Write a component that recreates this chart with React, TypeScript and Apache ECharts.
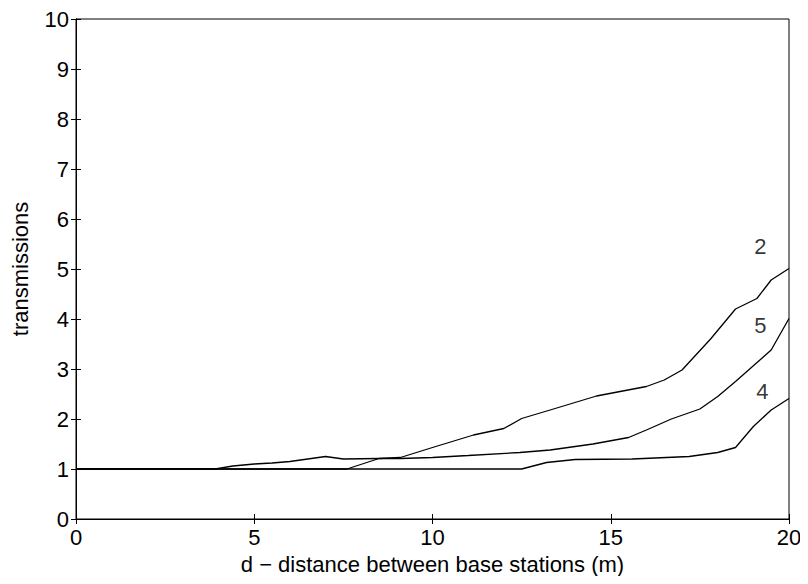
import React, { useEffect, useRef } from "react";
import * as echarts from "echarts";

const xs2 = [0, 7.6, 8.5, 9.1, 10, 11.15, 12, 12.5, 13.3, 14.6, 16, 16.5, 17, 17.8, 18.5, 19.1, 19.5, 20];
const ys2 = [1, 1, 1.21, 1.23, 1.43, 1.68, 1.81, 2.01, 2.18, 2.46, 2.65, 2.78, 2.98, 3.6, 4.2, 4.41, 4.78, 5.01];

const xs5 = [0, 3.9, 4.4, 5, 5.5, 6, 7, 7.5, 8.5, 9.1, 10, 11, 12.45, 13.3, 14.5, 15.5, 16, 16.7, 17.5, 18, 18.5, 19.5, 20];
const ys5 = [1, 1, 1.06, 1.1, 1.12, 1.15, 1.25, 1.2, 1.21, 1.21, 1.23, 1.27, 1.33, 1.38, 1.5, 1.63, 1.78, 2.0, 2.2, 2.45, 2.75, 3.38, 4.01];

const xs4 = [0, 12.5, 13.2, 14, 15.6, 17.2, 18, 18.5, 19, 19.5, 20];
const ys4 = [1, 1, 1.13, 1.19, 1.2, 1.25, 1.33, 1.43, 1.85, 2.18, 2.41];

const curveLabels = ["2", "5", "4"];
const labelX = [19.2, 19.2, 19.25];
const labelY = [5.45, 3.88, 2.55];

const xTicks = [0, 5, 10, 15, 20];
const yTicks = [0, 1, 2, 3, 4, 5, 6, 7, 8, 9, 10];

const pairs = (xs: number[], ys: number[]) => xs.map((x, i) => [x, ys[i]]);

export default function App() {
  const ref = useRef<HTMLDivElement>(null);
  useEffect(() => {
    const chart = echarts.init(ref.current!, null, { renderer: "svg" });
    const font = "'Liberation Sans', Arial, Helvetica, sans-serif";
    const lineStyle = { color: "#000", width: 1.3 };
    const mkLine = (xs: number[], ys: number[]) => ({
      type: "line",
      data: pairs(xs, ys),
      showSymbol: false,
      symbol: "none",
      lineStyle,
      xAxisIndex: 0,
      yAxisIndex: 0,
    });
    const tick = { show: true, inside: true, length: 5, lineStyle: { color: "#000" } };
    chart.setOption({
      animation: false,
      backgroundColor: "#fff",
      grid: { left: 76, right: 19, top: 19, bottom: 65, show: true, borderColor: "#000", borderWidth: 1 },
      xAxis: [
        {
          type: "value",
          min: xTicks[0],
          max: xTicks[xTicks.length - 1],
          interval: 5,
          name: "d \u2212 distance between base stations (m)",
          nameLocation: "middle",
          nameGap: 34,
          nameTextStyle: { color: "#000", fontSize: 22, fontFamily: font },
          axisLine: { show: true, lineStyle: { color: "#000" } },
          axisTick: tick,
          axisLabel: { color: "#000", fontSize: 22, fontFamily: font, margin: 7 },
          splitLine: { show: false },
        },
        {
          type: "value",
          position: "top",
          min: 0,
          max: 20,
          interval: 5,
          axisLine: { show: true, lineStyle: { color: "#000" } },
          axisTick: tick,
          axisLabel: { show: false },
          splitLine: { show: false },
        },
      ],
      yAxis: [
        {
          type: "value",
          min: yTicks[0],
          max: yTicks[yTicks.length - 1],
          interval: 1,
          name: "transmissions",
          nameLocation: "middle",
          nameGap: 45,
          nameRotate: 90,
          nameTextStyle: { color: "#000", fontSize: 22, fontFamily: font },
          axisLine: { show: true, lineStyle: { color: "#000" } },
          axisTick: tick,
          axisLabel: { color: "#000", fontSize: 22, fontFamily: font, margin: 7 },
          splitLine: { show: false },
        },
        {
          type: "value",
          position: "right",
          min: 0,
          max: 10,
          interval: 1,
          axisLine: { show: true, lineStyle: { color: "#000" } },
          axisTick: tick,
          axisLabel: { show: false },
          splitLine: { show: false },
        },
      ],
      series: [
        mkLine(xs2, ys2),
        mkLine(xs5, ys5),
        mkLine(xs4, ys4),
        {
          type: "scatter",
          symbolSize: 0,
          data: curveLabels.map((t, i) => ({ value: [labelX[i], labelY[i]], name: t })),
          label: {
            show: true,
            position: "inside",
            formatter: (p: any) => p.name,
            color: "#000",
            fontSize: 22,
            fontFamily: font,
          },
          xAxisIndex: 0,
          yAxisIndex: 0,
        },
      ],
    });
    return () => chart.dispose();
  }, []);
  return <div ref={ref} style={{ width: 808, height: 584, margin: -8 }} />;
}
